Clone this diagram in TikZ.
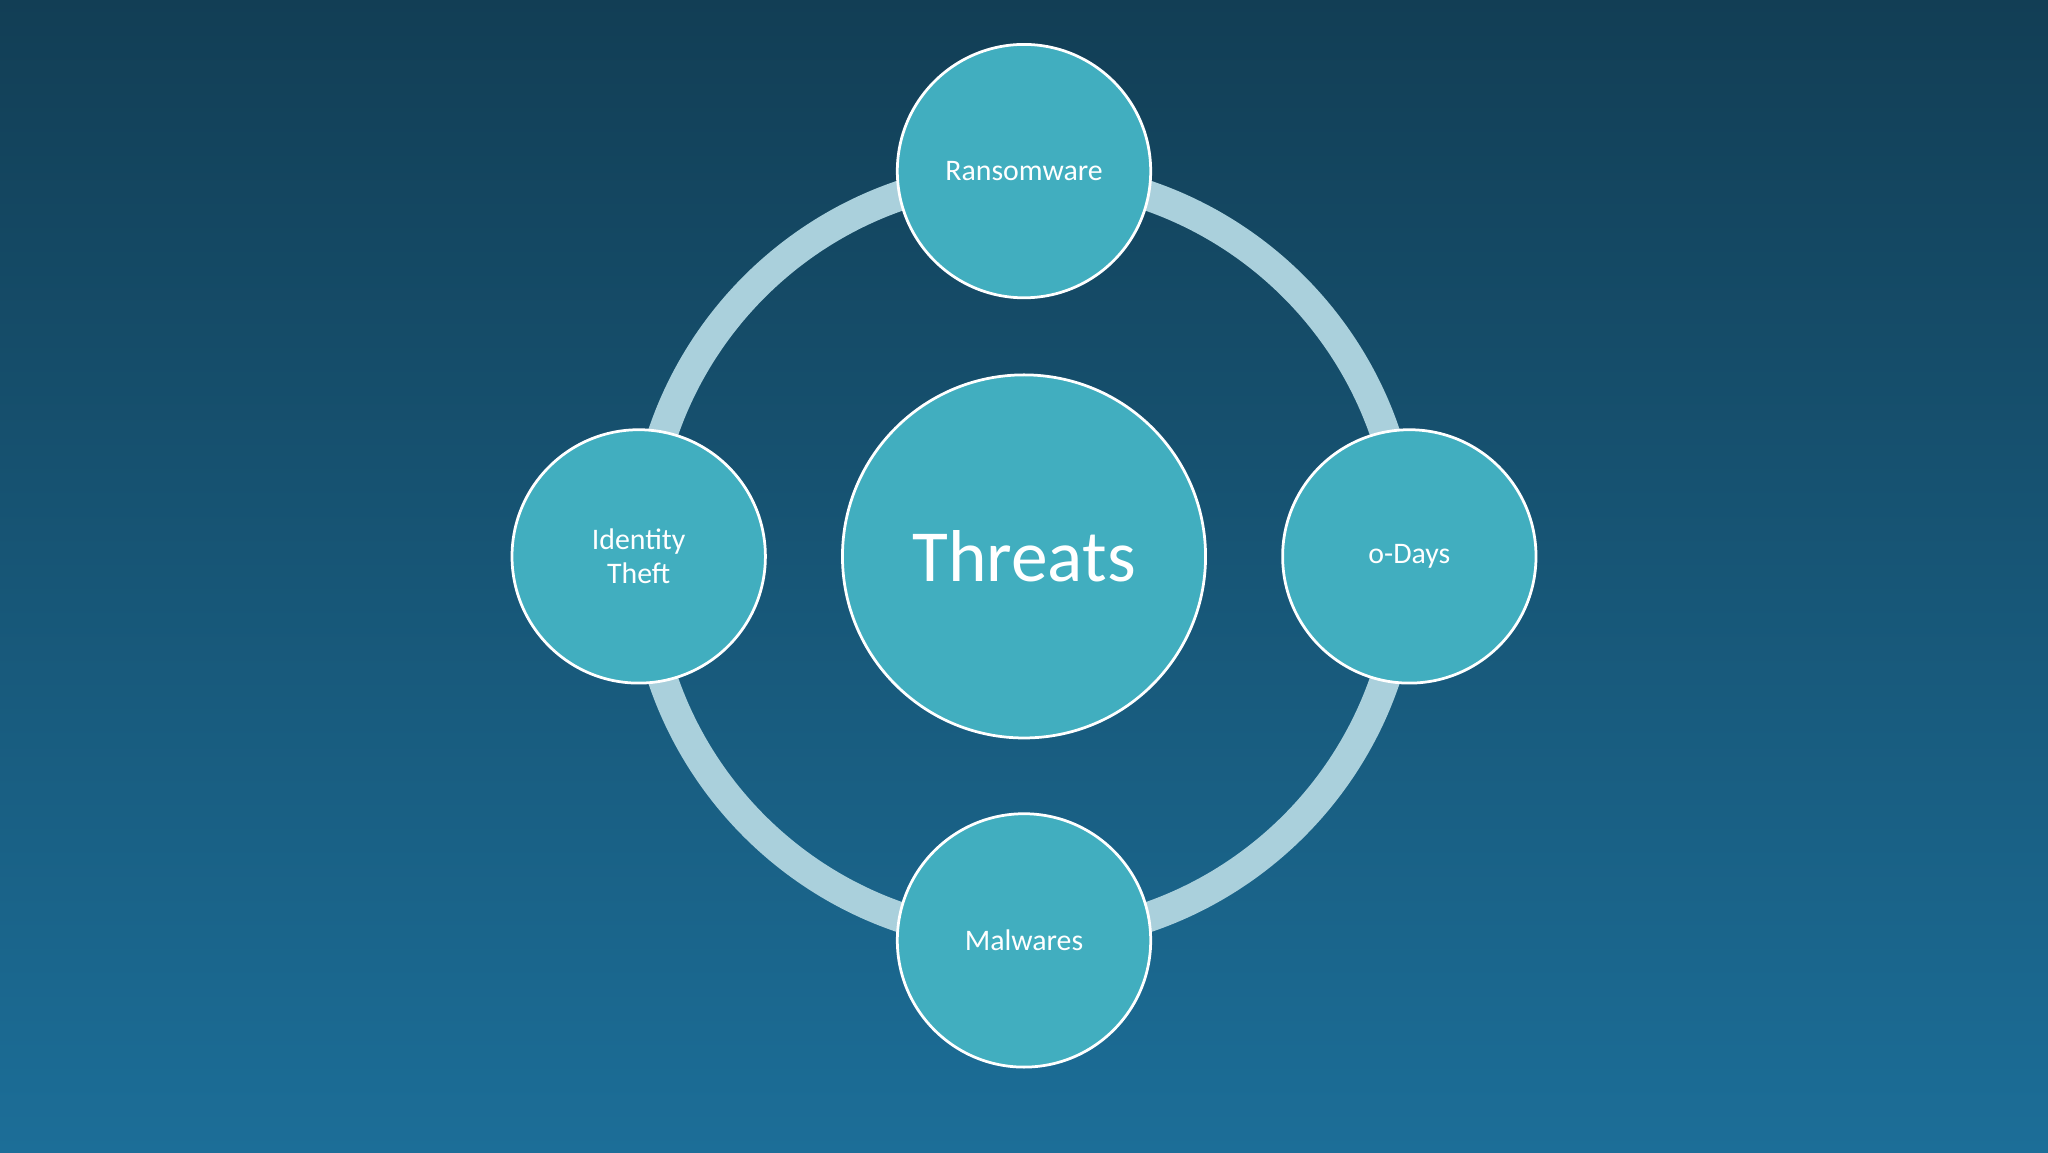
\documentclass[tikz,border=0pt]{standalone}
\usepackage{fontspec}
\setmainfont{Carlito}
\usetikzlibrary{positioning}
\definecolor{bgtop}{HTML}{123E55}
\definecolor{bgmid}{HTML}{144A66}
\definecolor{bgbot}{HTML}{1C6E98}
\definecolor{bubble}{HTML}{41AEBF}
\definecolor{ringc}{HTML}{AAD0DC}
\tikzset{
  bubble/.style={circle,fill=bubble,draw=white,line width=0.6pt,text=white,align=center,inner sep=0pt},
  small/.style={bubble,minimum size=1.94cm,font=\fontsize{6.5}{7.5}\selectfont},
}
\begin{document}
\begin{tikzpicture}
  % Background
  \shade[top color=bgtop,middle color=bgmid,bottom color=bgbot] (0,0) rectangle (15.68,8.82);
  \useasboundingbox (0,0) rectangle (15.68,8.82);
  % Ring
  \draw[ringc,line width=0.23cm] (7.84,4.56) circle (2.92);
  % Centre
  \node[bubble,minimum size=2.78cm,font=\fontsize{16}{18}\selectfont] (threats) at (7.84,4.56) {Threats};
  % Satellites
  \node[small] (ransom) at (7.84,7.51) {Ransomware};
  \node[small] (zeroday) at (10.79,4.56) {o-Days};
  \node[small] (malware) at (7.84,1.62) {Malwares};
  \node[small] (identity) at (4.89,4.56) {Identity\\Theft};
\end{tikzpicture}
\end{document}
